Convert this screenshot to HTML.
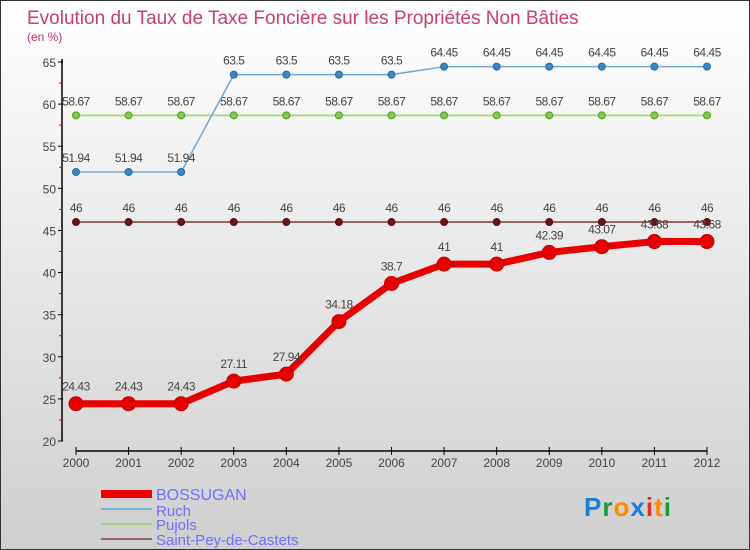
<!DOCTYPE html>
<html><head><meta charset="utf-8"><style>
body{margin:0}
#c{width:750px;height:550px;position:relative;overflow:hidden;box-sizing:border-box;border:1px solid #333;background:linear-gradient(#ffffff,#cfcfcf);font-family:"Liberation Sans",sans-serif}
</style></head><body>
<div id="c">
<svg id="s" width="750" height="550" style="position:absolute;left:0;top:0">
<text x="26" y="23" font-size="19" fill="#c8406a">Evolution du Taux de Taxe Foncière sur les Propriétés Non Bâties</text>
<text x="26" y="40" font-size="12" fill="#c2305c">(en %)</text>
<g id="g"></g>
<g>
<rect x="100" y="489" width="51" height="8" fill="#e00"/>
<text x="155" y="499" font-size="16" fill="#6f6fff">BOSSUGAN</text>
<rect x="100" y="507" width="51" height="2" fill="#7ab0d6"/>
<text x="155" y="515" font-size="15" fill="#6f6fff">Ruch</text>
<rect x="100" y="522" width="51" height="2" fill="#9ed67a"/>
<text x="155" y="529" font-size="15" fill="#6f6fff">Pujols</text>
<rect x="100" y="537" width="51" height="2" fill="#9a6464"/>
<text x="155" y="544" font-size="15" fill="#6f6fff">Saint-Pey-de-Castets</text>
</g>
<text x="583" y="515" font-size="26" font-weight="bold" letter-spacing="1"><tspan fill="#1a7fd6">P</tspan><tspan fill="#1a9a3a">r</tspan><tspan fill="#ff8a00">o</tspan><tspan fill="#1a7fd6">x</tspan><tspan fill="#e03020">i</tspan><tspan fill="#ff8a00">t</tspan><tspan fill="#1a9a3a">i</tspan></text>
</svg>
</div>
<script>
const years=[2000,2001,2002,2003,2004,2005,2006,2007,2008,2009,2010,2011,2012];
const bossugan=[24.43,24.43,24.43,27.11,27.94,34.18,38.7,41,41,42.39,43.07,43.68,43.68];
const ruch=[51.94,51.94,51.94,63.5,63.5,63.5,63.5,64.45,64.45,64.45,64.45,64.45,64.45];
const pujols=[58.67,58.67,58.67,58.67,58.67,58.67,58.67,58.67,58.67,58.67,58.67,58.67,58.67];
const saintPey=[46,46,46,46,46,46,46,46,46,46,46,46,46];
const yTicks=[20,25,30,35,40,45,50,55,60,65];
const NS="http://www.w3.org/2000/svg";
const g=document.getElementById('g');
function X(i){return 75+i*(706-75)/(years.length-1);}
function Y(v){return 440-(v-20)*(440-61)/45;}
function mk(t,a,p){const e=document.createElementNS(NS,t);for(const k in a)e.setAttribute(k,a[k]);(p||g).appendChild(e);return e;}
let ax=mk('line',{x1:61,y1:58,x2:61,y2:440,stroke:'#000','stroke-width':1.5});


yTicks.forEach((v,i)=>{
 mk('line',{x1:57,y1:Y(v),x2:62,y2:Y(v),stroke:'#000'});
 const t=mk('text',{x:55,y:Y(v)+5,'text-anchor':'end','font-size':12,fill:'#444'});t.textContent=v;
 
 
 if(i<yTicks.length-1)mk('line',{x1:58,y1:Y(v+2.5),x2:62,y2:Y(v+2.5),stroke:'#e00'});
});
let xa=mk('line',{x1:75,y1:450,x2:706,y2:450,stroke:'#000','stroke-width':1.5});


years.forEach((yr,i)=>{
 mk('line',{x1:X(i),y1:446,x2:X(i),y2:454,stroke:'#000'});
 const t=mk('text',{x:X(i),y:466,'text-anchor':'middle','font-size':12,fill:'#444'});t.textContent=yr;
 
 
});
function series(name,vals,col,w,dot,r,dotStroke,lab){
 const s=mk('g',{});
 
 
 mk('polyline',{points:vals.map((v,i)=>X(i)+','+Y(v)).join(' '),fill:'none',stroke:col,'stroke-width':w,'stroke-linejoin':'round'},s);
 vals.forEach((v,i)=>{
  const c=mk('circle',{cx:X(i),cy:Y(v),r:r,fill:dot,stroke:dotStroke,'stroke-width':1},s);
  
  
  const t=mk('text',{x:X(i),y:Y(v)-lab,'text-anchor':'middle','font-size':12,fill:'#444','letter-spacing':'-0.5'},s);t.textContent=v;
  
  
 });
}
series('saint-pey',saintPey,'#9a6464',2,'#6b1414',3.5,'#501010',10);
series('pujols',pujols,'#a8dc88',2,'#7ccc44',3.5,'#5a9a30',10);
series('ruch',ruch,'#6fa8d8',1.5,'#3a88c8',3.5,'#2a6a9a',10);
series('bossugan',bossugan,'#e80000',7,'#e80000',7,'#c00000',13);
</script>
</body></html>
